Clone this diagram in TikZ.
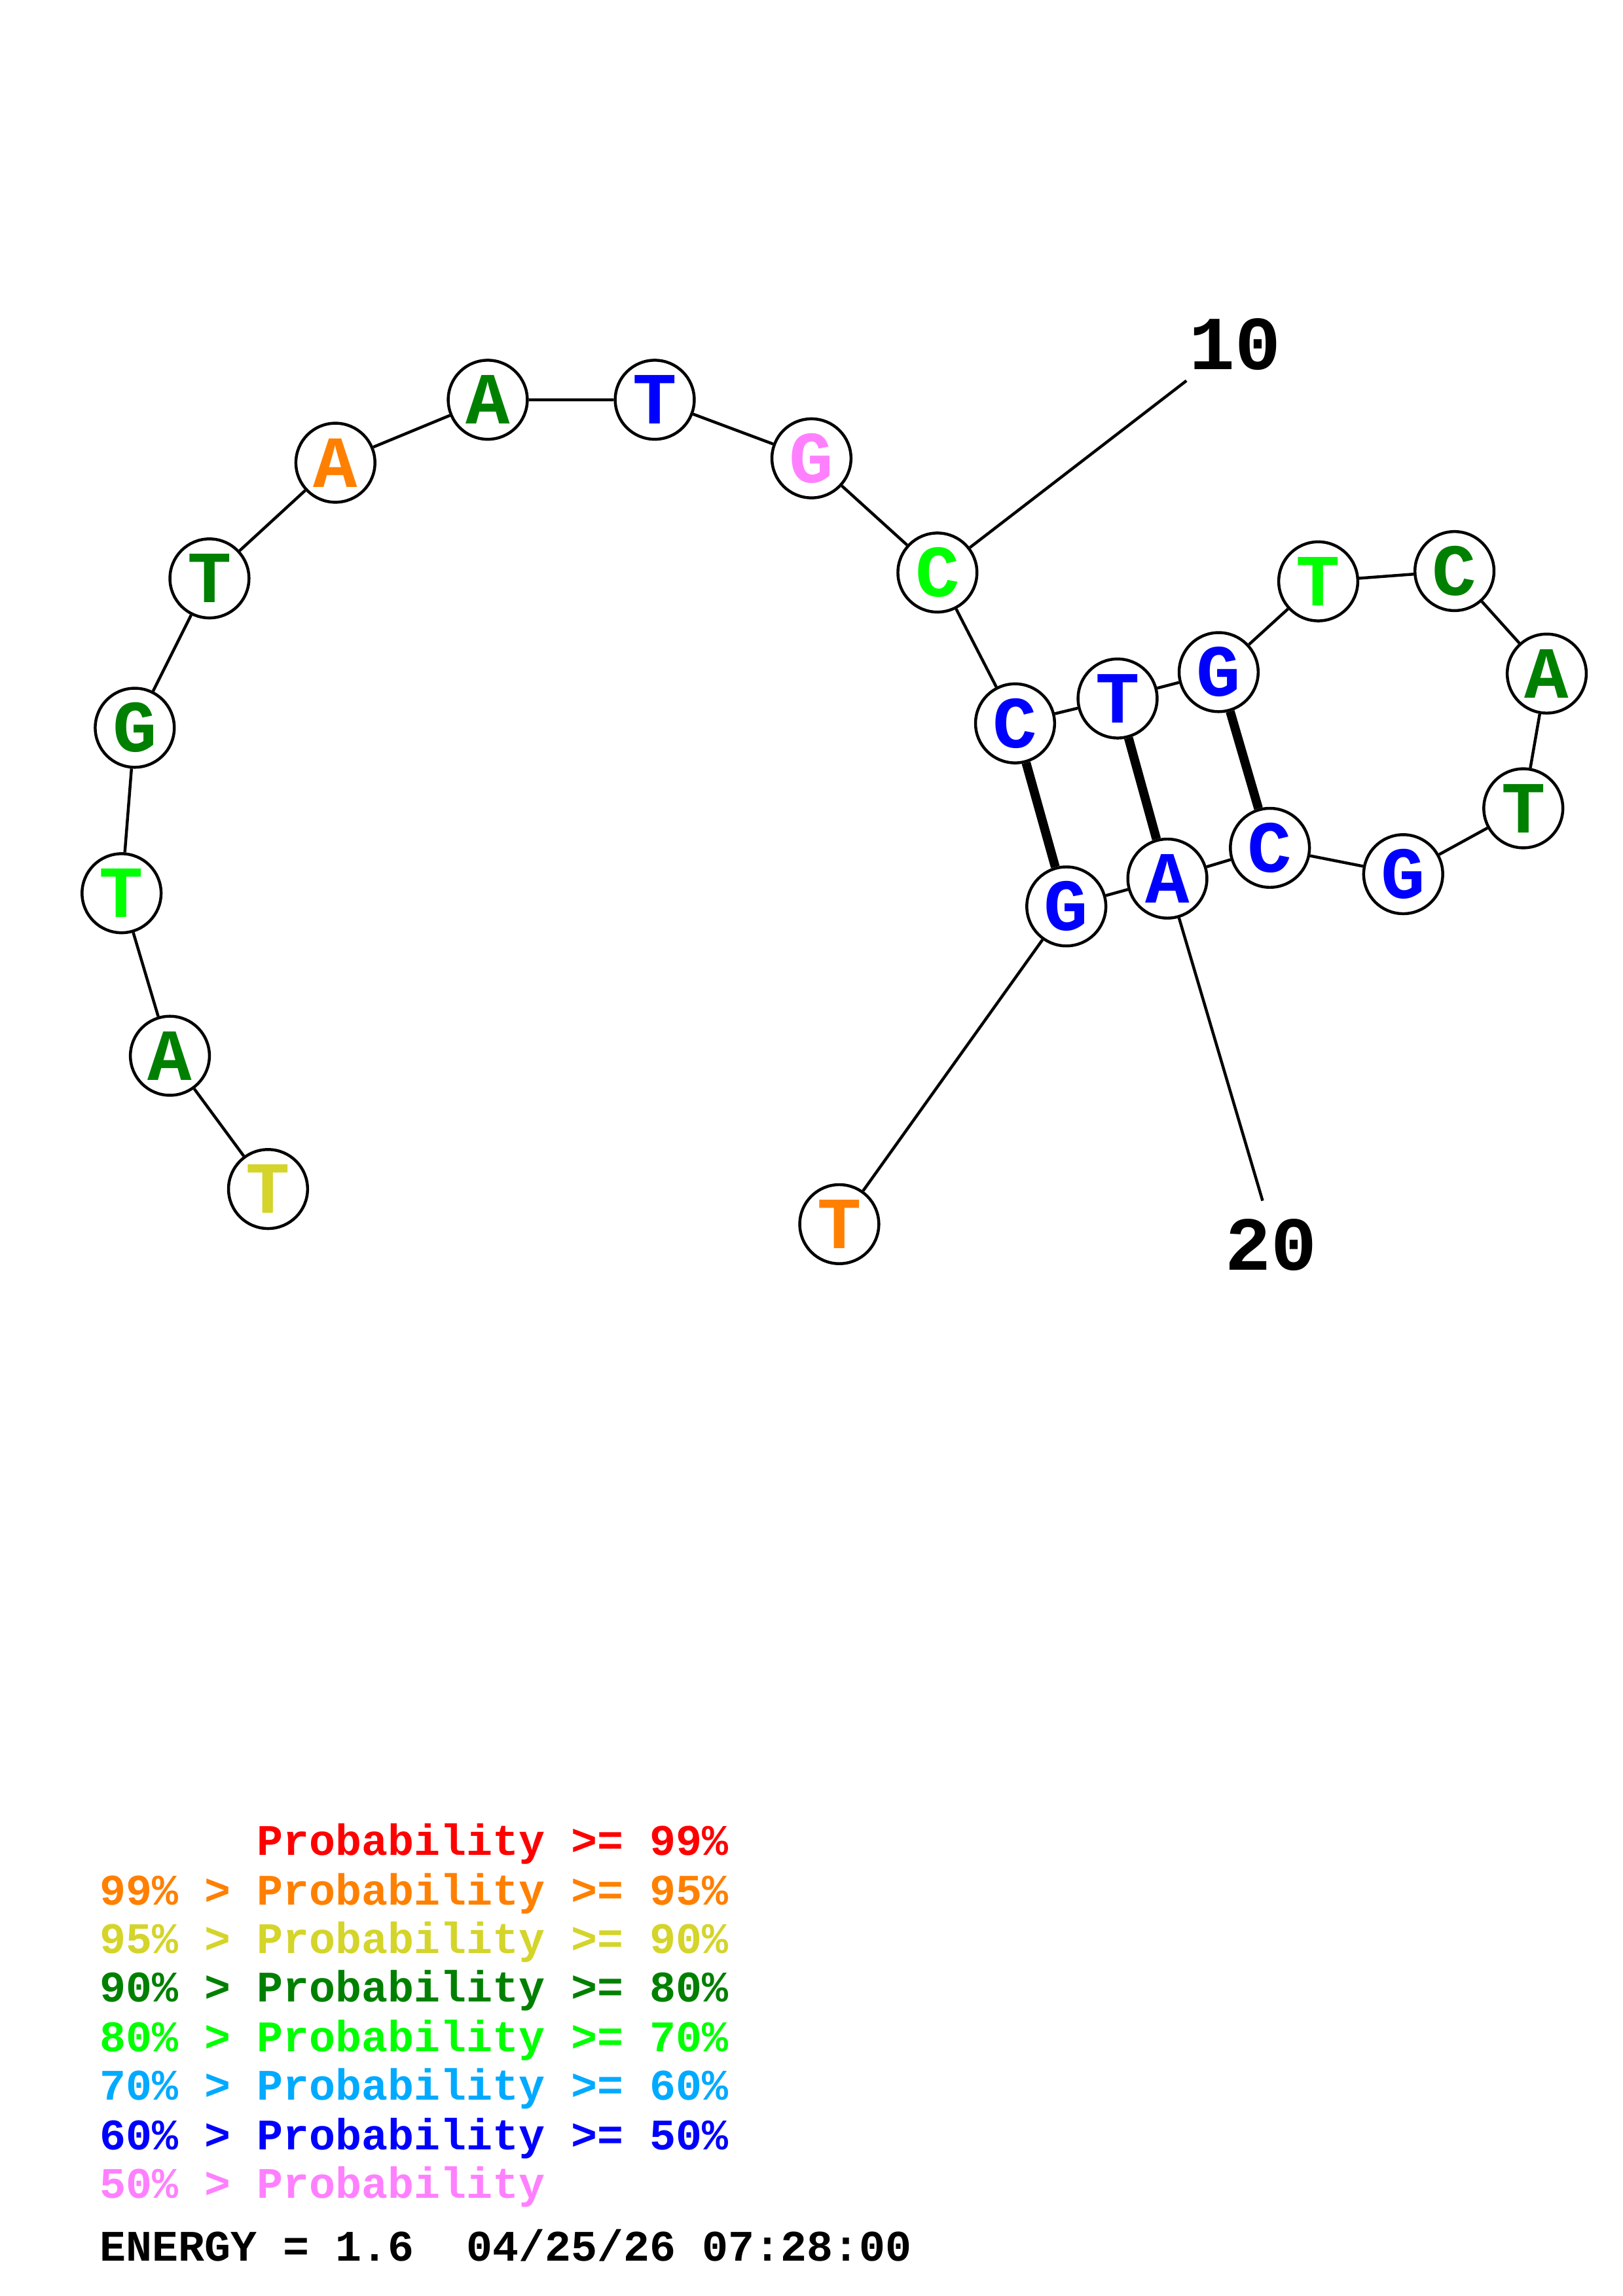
\documentclass[tikz,border=0pt]{standalone}
\usepackage{fontspec}
\setmonofont{Liberation Mono}
\usepackage{tikz}
\definecolor{pred}{RGB}{255,0,0}
\definecolor{porange}{RGB}{255,128,0}
\definecolor{pyellow}{RGB}{212,212,42}
\definecolor{pdgreen}{RGB}{0,128,0}
\definecolor{plgreen}{RGB}{0,255,0}
\definecolor{pcyan}{RGB}{0,170,255}
\definecolor{pblue}{RGB}{0,0,255}
\definecolor{ppink}{RGB}{255,128,255}

\begin{document}
\begin{tikzpicture}[x=0.5373pt, y=-0.5373pt,
    nuc/.style={circle, draw, line width=1.07pt, fill=white, minimum size=29pt, inner sep=0pt,
                font=\ttfamily\bfseries\fontsize{27}{27}\selectfont},
    bb/.style={line width=1.07pt},
    pair/.style={line width=3.3pt},
    numlab/.style={font=\ttfamily\bfseries\fontsize{28}{28}\selectfont},
    legend/.style={anchor=base west, inner sep=0pt, font=\ttfamily\bfseries\fontsize{16}{16}\selectfont}]
    \useasboundingbox (0,0) rectangle (1108,1568);

    % bases
    \node[nuc, text=pyellow] (b1)  at (183,812) {T};
    \node[nuc, text=pdgreen] (b2)  at (116,721) {A};
    \node[nuc, text=plgreen] (b3)  at (83,610)  {T};
    \node[nuc, text=pdgreen] (b4)  at (92,497)  {G};
    \node[nuc, text=pdgreen] (b5)  at (143,395) {T};
    \node[nuc, text=porange] (b6)  at (229,316) {A};
    \node[nuc, text=pdgreen] (b7)  at (333,273) {A};
    \node[nuc, text=pblue]   (b8)  at (447,273) {T};
    \node[nuc, text=ppink]   (b9)  at (554,313) {G};
    \node[nuc, text=plgreen] (b10) at (640,391) {C};
    \node[nuc, text=pblue]   (b11) at (693,494) {C};
    \node[nuc, text=pblue]   (b12) at (763,477) {T};
    \node[nuc, text=pblue]   (b13) at (832,459) {G};
    \node[nuc, text=plgreen] (b14) at (900,397) {T};
    \node[nuc, text=pdgreen] (b15) at (993,390) {C};
    \node[nuc, text=pdgreen] (b16) at (1056,460) {A};
    \node[nuc, text=pdgreen] (b17) at (1040,552) {T};
    \node[nuc, text=pblue]   (b18) at (958,597) {G};
    \node[nuc, text=pblue]   (b19) at (867,579) {C};
    \node[nuc, text=pblue]   (b20) at (797,600) {A};
    \node[nuc, text=pblue]   (b21) at (728,619) {G};
    \node[nuc, text=porange] (b22) at (573,836) {T};

    % backbone
    \draw[bb] (b1) -- (b2) -- (b3) -- (b4) -- (b5) -- (b6) -- (b7) -- (b8) -- (b9) -- (b10) -- (b11);
    \draw[bb] (b11) -- (b12) -- (b13) -- (b14) -- (b15) -- (b16) -- (b17) -- (b18) -- (b19) -- (b20) -- (b21) -- (b22);

    % pairs
    \draw[pair] (b11) -- (b21);
    \draw[pair] (b12) -- (b20);
    \draw[pair] (b13) -- (b19);

    % numbering
    \coordinate (m10) at (810,260);
    \coordinate (m20) at (862,820);
    \node[numlab] (l10) at (843,235) {10};
    \node[numlab] (l20) at (868,850) {20};
    \draw[bb] (b10) -- (m10);
    \draw[bb] (b20) -- (m20);

    % legend
    \node[legend, text=pred]    (p1) at (68,1267) {\phantom{99\% > }Probability >= 99\%};
    \node[legend, text=porange] (p2) at (68,1301) {99\% > Probability >= 95\%};
    \node[legend, text=pyellow] (p3) at (68,1334) {95\% > Probability >= 90\%};
    \node[legend, text=pdgreen] (p4) at (68,1367) {90\% > Probability >= 80\%};
    \node[legend, text=plgreen] (p5) at (68,1401) {80\% > Probability >= 70\%};
    \node[legend, text=pcyan]   (p6) at (68,1434) {70\% > Probability >= 60\%};
    \node[legend, text=pblue]   (p7) at (68,1468) {60\% > Probability >= 50\%};
    \node[legend, text=ppink]   (p8) at (68,1501) {50\% > Probability};
    \node[legend]               (en) at (68,1544) {ENERGY = 1.6~~04/25/26 07:28:00};
\end{tikzpicture}
\end{document}
